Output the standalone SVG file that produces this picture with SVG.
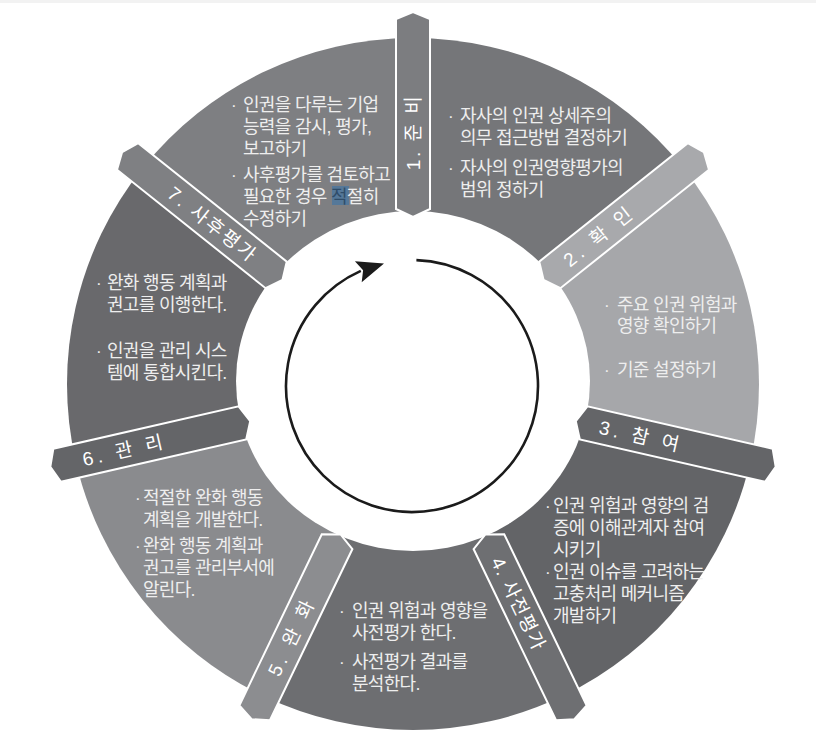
<svg xmlns="http://www.w3.org/2000/svg" xmlns:xlink="http://www.w3.org/1999/xlink" width="816" height="748" viewBox="0 0 816 748">
  <style>
    .txt { font-family: "Liberation Sans", "Noto Sans CJK KR", sans-serif; font-size: 18px; letter-spacing: -0.7px; fill: #eeeeee; }
    .b { font-family: "Liberation Sans", "DejaVu Sans", sans-serif; font-size: 17px; letter-spacing: 0; }
    .lab { font-family: "Liberation Sans", "Noto Sans CJK KR", sans-serif; font-size: 19px; fill: #ffffff; text-anchor: middle; }
    .tab { stroke: #ffffff; stroke-width: 2; stroke-linejoin: miter; }
    .arc { fill: none; stroke: #1b1b1b; stroke-width: 2.6; }
  </style>
  <defs>
    <polygon id="tabshape" points="-17,-365 0,-372 17,-365 17,-175 0,-167 -17,-175"/>
  </defs>
  <rect x="0" y="0" width="816" height="748" fill="#ffffff"/>
  <rect x="0" y="0" width="816" height="3" fill="#f2f2f2"/>

  <g id="ring">
    <path id="sector-1" d="M413 384 L413 38 A346 346 0 0 1 683.51 168.27 Z" fill="#757679"/>
    <path id="sector-2" d="M413 384 L683.51 168.27 A346 346 0 0 1 750.33 460.99 Z" fill="#a6a7aa"/>
    <path id="sector-3" d="M413 384 L750.33 460.99 A346 346 0 0 1 563.12 695.74 Z" fill="#636467"/>
    <path id="sector-4" d="M413 384 L563.12 695.74 A346 346 0 0 1 262.88 695.74 Z" fill="#6d6e71"/>
    <path id="sector-5" d="M413 384 L262.88 695.74 A346 346 0 0 1 75.67 460.99 Z" fill="#8a8b8e"/>
    <path id="sector-6" d="M413 384 L75.67 460.99 A346 346 0 0 1 142.49 168.27 Z" fill="#69696c"/>
    <path id="sector-7" d="M413 384 L142.49 168.27 A346 346 0 0 1 413 38 Z" fill="#7e7f82"/>
    <ellipse id="hub" cx="413" cy="381" rx="177" ry="170" fill="#ffffff"/>
  </g>

  <g id="stage-1">
    <use xlink:href="#tabshape" class="tab" fill="#7c7d80" transform="translate(413 384) rotate(0)"/>
    <g transform="translate(413 384) rotate(0) translate(0 -251) rotate(-90)"><text class="lab" x="1" y="7" letter-spacing="2.5">1. 준 비</text></g>
    <text class="txt"><tspan class="b" x="448" y="122">·</tspan><tspan x="460" y="122">자사의 인권 상세주의</tspan><tspan x="460" y="144">의무 접근방법 결정하기</tspan><tspan class="b" x="448" y="174">·</tspan><tspan x="460" y="174">자사의 인권영향평가의</tspan><tspan x="460" y="196">범위 정하기</tspan></text>
  </g>

  <g id="stage-2">
    <use xlink:href="#tabshape" class="tab" fill="#a8a9ac" transform="translate(413 384) rotate(51.43)"/>
    <g transform="translate(413 384) rotate(51.43) translate(0 -236) rotate(-90)"><text class="lab" x="2" y="7" letter-spacing="4">2. 확 인</text></g>
    <text class="txt"><tspan class="b" x="604" y="311">·</tspan><tspan x="617" y="311">주요 인권 위험과</tspan><tspan x="617" y="332">영향 확인하기</tspan><tspan class="b" x="604" y="376">·</tspan><tspan x="617" y="376">기준 설정하기</tspan></text>
  </g>

  <g id="stage-3">
    <use xlink:href="#tabshape" class="tab" fill="#646568" transform="translate(413 384) rotate(102.86)"/>
    <g transform="translate(413 384) rotate(102.86) translate(0 -232) rotate(-90)"><text class="lab" x="2" y="7" letter-spacing="4">3. 참 여</text></g>
    <text class="txt"><tspan class="b" x="545" y="512">·</tspan><tspan x="553" y="512">인권 위험과 영향의 검</tspan><tspan x="553" y="534">증에 이해관계자 참여</tspan><tspan x="553" y="556">시키기</tspan><tspan class="b" x="545" y="578">·</tspan><tspan x="553" y="578">인권 이슈를 고려하는</tspan><tspan x="553" y="600">고충처리 메커니즘</tspan><tspan x="553" y="622">개발하기</tspan></text>
  </g>

  <g id="stage-4">
    <use xlink:href="#tabshape" class="tab" fill="#6e6f72" transform="translate(413 384) rotate(154.29)"/>
    <g transform="translate(413 384) rotate(154.29) translate(0 -243) rotate(-90)"><text class="lab" x="1" y="7" letter-spacing="1.5">4. 사전평가</text></g>
    <text class="txt"><tspan class="b" x="339" y="617">·</tspan><tspan x="352" y="617">인권 위험과 영향을</tspan><tspan x="352" y="639">사전평가 한다.</tspan><tspan class="b" x="339" y="668">·</tspan><tspan x="352" y="668">사전평가 결과를</tspan><tspan x="352" y="690">분석한다.</tspan></text>
  </g>

  <g id="stage-5">
    <use xlink:href="#tabshape" class="tab" fill="#8c8d90" transform="translate(413 384) rotate(205.71)"/>
    <g transform="translate(413 384) rotate(205.71) translate(0 -282) rotate(90)"><text class="lab" x="2" y="7" letter-spacing="4">5. 완 화</text></g>
    <text class="txt"><tspan class="b" x="135" y="504">·</tspan><tspan x="143" y="504">적절한 완화 행동</tspan><tspan x="143" y="526">계획을 개발한다.</tspan><tspan class="b" x="135" y="552">·</tspan><tspan x="143" y="552">완화 행동 계획과</tspan><tspan x="143" y="574">권고를 관리부서에</tspan><tspan x="143" y="596">알린다.</tspan></text>
  </g>

  <g id="stage-6">
    <use xlink:href="#tabshape" class="tab" fill="#646568" transform="translate(413 384) rotate(257.14)"/>
    <g transform="translate(413 384) rotate(257.14) translate(0 -298) rotate(90)"><text class="lab" x="2" y="7" letter-spacing="4">6. 관 리</text></g>
    <text class="txt"><tspan class="b" x="96" y="289">·</tspan><tspan x="107" y="289">완화 행동 계획과</tspan><tspan x="107" y="311">권고를 이행한다.</tspan><tspan class="b" x="96" y="357">·</tspan><tspan x="107" y="357">인권을 관리 시스</tspan><tspan x="107" y="379">템에 통합시킨다.</tspan></text>
  </g>

  <g id="stage-7">
    <use xlink:href="#tabshape" class="tab" fill="#7f8083" transform="translate(413 384) rotate(308.57)"/>
    <g transform="translate(413 384) rotate(308.57) translate(0 -257) rotate(90)"><text class="lab" x="1" y="7" letter-spacing="2.5">7. 사후평가</text></g>
    <rect x="332" y="186" width="17" height="19" fill="#557899"/>
    <text class="txt"><tspan class="b" x="231" y="111">·</tspan><tspan x="243" y="111">인권을 다루는 기업</tspan><tspan x="243" y="133">능력을 감시, 평가,</tspan><tspan x="243" y="155">보고하기</tspan><tspan class="b" x="231" y="181">·</tspan><tspan x="243" y="181">사후평가를 검토하고</tspan><tspan x="243" y="203">필요한 경우 </tspan><tspan fill="#2f4c69">적</tspan><tspan>절히</tspan><tspan x="243" y="225">수정하기</tspan></text>
  </g>

  <g id="connectors">
    <path class="arc" d="M416.4 260.1 A126 126 0 1 1 360.8 270.9"/>
    <polygon points="384,263.5 354.9,261.3 363.1,270.3 361.7,282.3" fill="#1b1b1b"/>
  </g>
</svg>
